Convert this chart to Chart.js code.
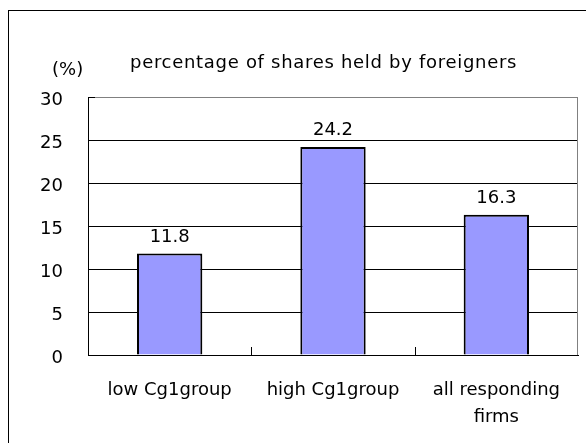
<!DOCTYPE html>
<html>
<head>
<meta charset="utf-8">
<script src="https://cdn.jsdelivr.net/npm/chart.js@4.4.1/dist/chart.umd.min.js"></script>
<style>
  html, body { margin: 0; padding: 0; background: #fff; }
  #wrap { width: 586px; height: 443px; position: relative; }
</style>
</head>
<body>
<div id="wrap"><canvas id="chart" width="586" height="443"></canvas></div>
<script>
// Foreign ownership share by CG group

const categories = [['low Cg1group'], ['high Cg1group'], ['all responding', 'firms']];
const shares = [11.8, 24.2, 16.3];
const yTicks = [0, 5, 10, 15, 20, 25, 30];

const titleText = 'percentage of shares held by foreigners';
const unitText = '(%)';

const FONT = 'DejaVu Sans';
const BAR = '#9999ff';

// frame, title, plot edges, inside tick marks and value labels
const decor = {
  id: 'decor',
  beforeDraw(chart) {
    const ctx = chart.ctx;
    ctx.save();
    ctx.fillStyle = '#fff';
    ctx.fillRect(0, 0, chart.width, chart.height);
    ctx.strokeStyle = '#000';
    ctx.lineWidth = 1;
    ctx.strokeRect(8.5, 10.5, chart.width + 50, chart.height + 50);
    ctx.restore();
  },
  afterDraw(chart) {
    const ctx = chart.ctx;
    const a = chart.chartArea;
    const x = chart.scales.x;
    const y = chart.scales.y;
    ctx.save();

    // right edge of the plot
    ctx.strokeStyle = '#808080';
    ctx.lineWidth = 1;
    ctx.beginPath();
    ctx.moveTo(Math.round(a.right) - 0.5, a.top);
    ctx.lineTo(Math.round(a.right) - 0.5, a.bottom);
    ctx.stroke();

    // inside tick marks
    ctx.strokeStyle = '#000';
    ctx.beginPath();
    yTicks.forEach(v => {
      const py = Math.round(y.getPixelForValue(v)) + 0.5;
      ctx.moveTo(a.left, py);
      ctx.lineTo(a.left + 7, py);
    });
    for (let i = 0; i < categories.length - 1; i++) {
      const px = Math.round((x.getPixelForValue(i) + x.getPixelForValue(i + 1)) / 2) + 0.5;
      ctx.moveTo(px, a.bottom);
      ctx.lineTo(px, a.bottom - 8);
    }
    ctx.stroke();

    // value labels
    ctx.fillStyle = '#000';
    ctx.font = `18px "${FONT}"`;
    ctx.textAlign = 'center';
    ctx.textBaseline = 'alphabetic';
    chart.getDatasetMeta(0).data.forEach((bar, i) => {
      ctx.fillText(shares[i].toFixed(1), bar.x, bar.y - 12);
    });

    // title and unit
    ctx.textAlign = 'left';
    ctx.fillText(unitText, 52, 75);
    ctx.letterSpacing = '0.7px';
    ctx.fillText(titleText, 130, 68);
    ctx.restore();
  }
};

new Chart(document.getElementById('chart'), {
  type: 'bar',
  data: {
    labels: categories,
    datasets: [{
      data: shares,
      backgroundColor: BAR,
      borderColor: '#000',
      borderWidth: 2,
      borderSkipped: 'start',
      barPercentage: 0.4,
      categoryPercentage: 1.0,
    }],
  },
  options: {
    responsive: false,
    animation: false,
    layout: { padding: { top: 97, right: 8, left: 0, bottom: 0 } },
    plugins: {
      legend: { display: false },
      tooltip: { enabled: false },
      title: { display: false },
    },
    scales: {
      y: {
        min: 0,
        max: 30,
        afterFit(scale) { scale.width = 88; },
        afterBuildTicks(scale) { scale.ticks = yTicks.map(v => ({ value: v })); },
        ticks: {
          color: '#000',
          padding: 25,
          labelOffset: 3,
          font: { family: FONT, size: 18 },
        },
        grid: {
          color: ctx => (ctx.tick && ctx.tick.value === 30 ? '#808080' : '#000'),
          lineWidth: 1,
          drawTicks: false,
        },
        border: { color: '#000', width: 1 },
      },
      x: {
        afterFit(scale) { scale.height = 88; },
        ticks: {
          color: '#000',
          padding: 22,
          maxRotation: 0,
          autoSkip: false,
          font: { family: FONT, size: 18, lineHeight: 1.5 },
        },
        grid: { display: false, drawTicks: false },
        border: { color: '#000', width: 1 },
      },
    },
  },
  plugins: [decor],
});
</script>
</body>
</html>
